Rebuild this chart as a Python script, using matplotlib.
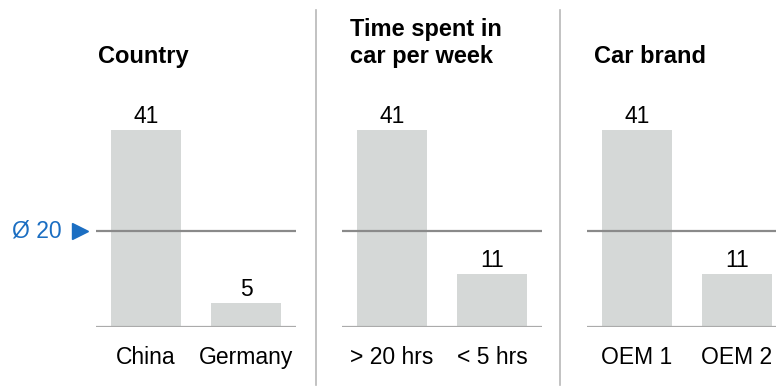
import matplotlib.pyplot as plt

plt.rcParams['font.family'] = ['Liberation Sans', 'DejaVu Sans']

titles = ["Country", "Time spent in\ncar per week", "Car brand"]
categories = [["China", "Germany"], ["> 20 hrs", "< 5 hrs"], ["OEM 1", "OEM 2"]]
values = [[41, 5], [41, 11], [41, 11]]
average = 20

W, H = 776, 389
fig = plt.figure(figsize=(W / 100, H / 100), dpi=100)

panel_left = [96, 342, 587]
title_left = [98, 350, 594]
bar_color = "#d5d8d7"
blue = "#1b6ec2"
fs = 16.5

axes = []
for i in range(3):
    ax = fig.add_axes([panel_left[i] / W, (H - 327) / H, 200 / W, 216 / H])
    ax.bar([0, 1], values[i], width=0.7, color=bar_color, zorder=1)
    ax.set_xlim(-0.5, 1.5)
    ax.set_ylim(0, 45)
    ax.axhline(average, color="#8a8a8a", lw=1.6, zorder=2)
    ax.axhline(0, color="#ababab", lw=1.6, zorder=2)
    for s in ax.spines.values():
        s.set_visible(False)
    ax.set_yticks([])
    ax.set_xticks([0, 1])
    ax.set_xticklabels(categories[i], fontsize=fs)
    ax.tick_params(axis="x", length=0, pad=14)
    for x, v in zip([0, 1], values[i]):
        ax.text(x, v + 1.45, str(v), ha="center", va="baseline", fontsize=fs)
    ax.patch.set_visible(False)
    fig.text(title_left[i] / W, 1 - 63 / H, titles[i], ha="left", va="baseline",
             fontsize=17, fontweight="bold", linespacing=1.2)
    axes.append(ax)

# average marker on first panel
ax0 = axes[0]
ax0.plot([-0.082], [average], marker=">", color=blue, markersize=11,
         transform=ax0.get_yaxis_transform(), clip_on=False)
ax0.text(-0.17, average, "Ø 20", color=blue, fontsize=fs, ha="right", va="center",
         transform=ax0.get_yaxis_transform())

# separators
for xs in [316, 560]:
    fig.add_artist(plt.Line2D([xs / W, xs / W], [1 - 10 / H, 1 - 385 / H],
                              color="#b8b8b8", lw=1.2))

fig.savefig("out.png", dpi=100)
